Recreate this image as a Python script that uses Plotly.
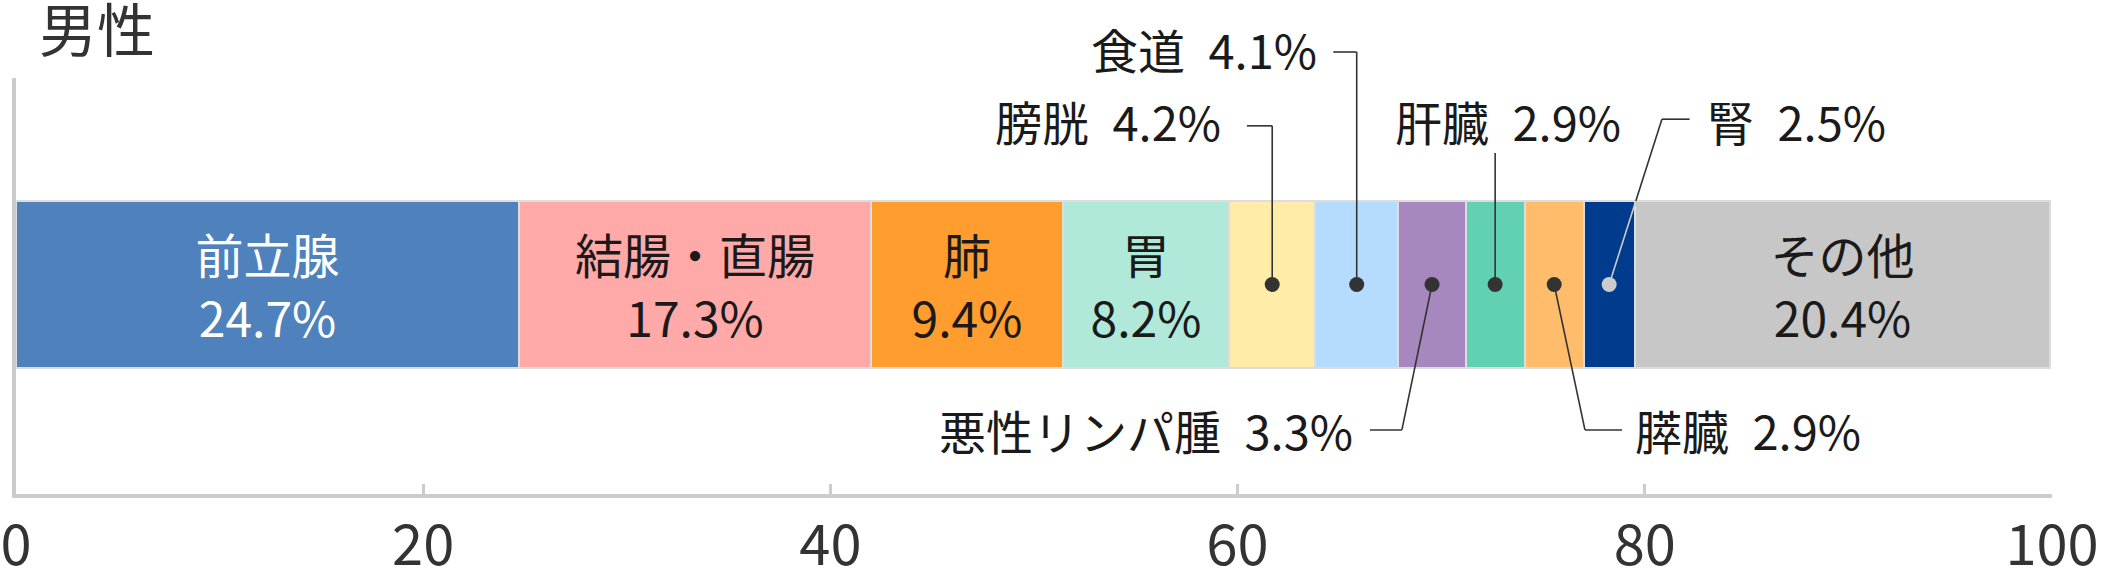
import plotly.graph_objects as go

# 男性のがん罹患 部位別割合 (%)
categories = ["前立腺", "結腸・直腸", "肺", "胃", "膀胱", "食道", "悪性リンパ腫", "肝臓", "膵臓", "腎", "その他"]
shares = [24.7, 17.3, 9.4, 8.2, 4.2, 4.1, 3.3, 2.9, 2.9, 2.5, 20.4]
colors = ["#4F81BD", "#FFA9A9", "#FF9E2E", "#B0E9D9", "#FFECA9", "#B5DCFF",
          "#A688BE", "#62D0B3", "#FFBC6B", "#003B8E", "#C7C7C7"]
tick_values = [0, 20, 40, 60, 80, 100]
title_text = "男性"

inside_labels = ["前立腺", "結腸・直腸", "肺", "胃", "その他"]
white_text = ["前立腺"]
light_dot = ["腎"]

FONT = "Noto Sans CJK JP"
DARK = "#333333"

# y axis: bar centred at 0 with width 1
y_lo, y_hi = -1.2545, 1.2365
bar_mid = (0 - y_lo) / (y_hi - y_lo)          # paper y of bar centre
bar_top = (0.5 - y_lo) / (y_hi - y_lo)        # paper y of bar top edge

# callout layout: text anchor (x in data units, y in paper), and leader elbow points
# None as x means "the dot x" (centre of the segment)
callouts = {
    "膀胱": dict(tx=59.3, ty=0.899, anchor="right", pts=[(60.46, 0.885), (None, 0.885)]),
    "食道": dict(tx=64.0, ty=1.07, anchor="right", pts=[(64.7, 1.0625), (None, 1.0625)]),
    "肝臓": dict(tx=73.3, ty=0.899, anchor="center", pts=[(None, 0.82)]),
    "腎": dict(tx=82.96, ty=0.899, anchor="left", pts=[(82.2, 0.901), (80.84, 0.901)]),
    "悪性リンパ腫": dict(tx=65.77, ty=0.156, anchor="right", pts=[(66.5, 0.154), (68.07, 0.154)]),
    "膵臓": dict(tx=79.42, ty=0.156, anchor="left", pts=[(78.88, 0.154), (77.06, 0.154)]),
}

fig = go.Figure()

starts = []
acc = 0
for cat, val, col in zip(categories, shares, colors):
    starts.append(acc)
    acc += val
    txt = f"{cat}<br>{val}%" if cat in inside_labels else ""
    fig.add_trace(go.Bar(
        y=[0], x=[val], orientation="h", width=1,
        marker=dict(color=col, line=dict(color="#DDDDDD", width=2)),
        text=[txt], textposition="inside", insidetextanchor="middle", textangle=0,
        textfont=dict(family=FONT, size=48,
                      color="white" if cat in white_text else "#1A1A1A"),
        hoverinfo="skip", showlegend=False,
    ))

shapes = []
annotations = []
dot_x, dot_c = [], []
for cat, val, start in zip(categories, shares, starts):
    if cat not in callouts:
        continue
    c = callouts[cat]
    cx = start + val / 2
    dot_x.append(cx)
    dot_c.append("#CCCCCC" if cat in light_dot else DARK)

    pts = [(cx if px is None else px, py) for px, py in c["pts"]] + [(cx, bar_mid)]
    for (x0, y0), (x1, y1) in zip(pts[:-1], pts[1:]):
        if cat in light_dot and y1 == bar_mid:
            # part of the leader inside the dark bar is drawn light
            t = (y0 - bar_top) / (y0 - y1)
            xm = x0 + (x1 - x0) * t
            shapes.append(dict(type="line", xref="x", yref="paper", x0=x0, y0=y0, x1=xm, y1=bar_top,
                               line=dict(color=DARK, width=1.6)))
            shapes.append(dict(type="line", xref="x", yref="paper", x0=xm, y0=bar_top, x1=x1, y1=y1,
                               line=dict(color="#CCCCCC", width=1.6)))
        else:
            shapes.append(dict(type="line", xref="x", yref="paper", x0=x0, y0=y0, x1=x1, y1=y1,
                               line=dict(color=DARK, width=1.6)))

    annotations.append(dict(
        x=c["tx"], y=c["ty"], xref="x", yref="paper", xanchor=c["anchor"], yanchor="middle",
        text=f"{cat}\u2002{val}%", showarrow=False,
        font=dict(family=FONT, size=47, color="#1A1A1A"),
    ))

fig.add_trace(go.Scatter(
    x=dot_x, y=[0] * len(dot_x), mode="markers",
    marker=dict(size=15, color=dot_c), hoverinfo="skip", showlegend=False, cliponaxis=False,
))

annotations.append(dict(
    x=0.0105, y=1.122, xref="paper", yref="paper", xanchor="left", yanchor="middle",
    text=title_text, showarrow=False, font=dict(family=FONT, size=58, color=DARK),
))

fig.update_layout(
    width=2103, height=585,
    margin=dict(l=16, r=51, t=78, b=91),
    paper_bgcolor="white", plot_bgcolor="white",
    barmode="stack", bargap=0,
    showlegend=False, hovermode=False,
    shapes=shapes, annotations=annotations,
    font=dict(family=FONT, color=DARK),
    xaxis=dict(
        range=[0, 100], tickvals=tick_values, ticks="inside", ticklen=10, tickwidth=3,
        tickcolor="#CCCCCC", showline=True, linecolor="#CCCCCC", linewidth=4,
        showgrid=False, zeroline=False, ticklabelstandoff=0, automargin=False,
        tickfont=dict(family=FONT, size=56, color=DARK),
    ),
    yaxis=dict(
        range=[y_lo, y_hi], showticklabels=False, showgrid=False, zeroline=False,
        showline=True, linecolor="#CCCCCC", linewidth=4, ticks="", automargin=False,
    ),
)

# drop the page's default body margin so the figure sits at the window corner
fig.write_html("out.html", config={"displayModeBar": False},
               post_script="document.body.style.margin='0';")
